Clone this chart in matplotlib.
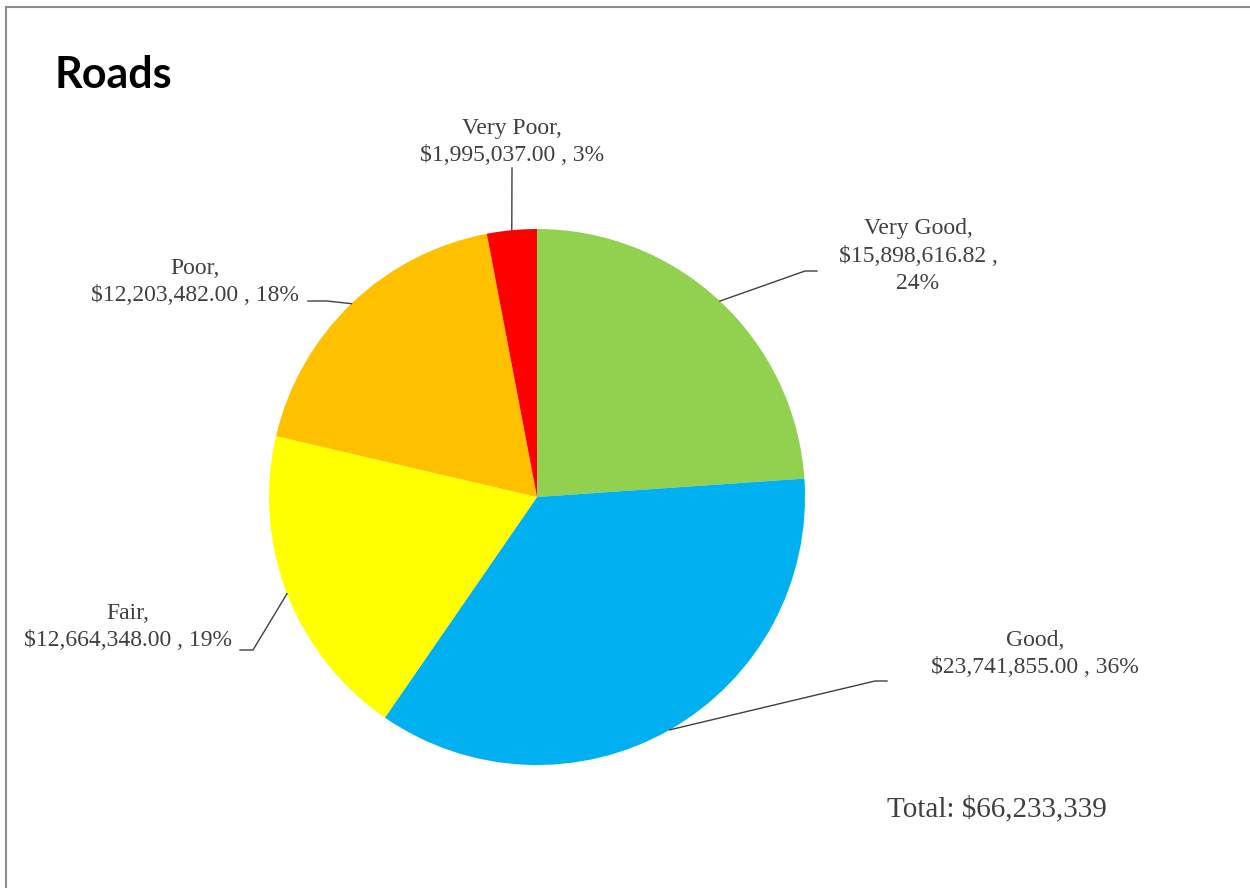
import numpy as np
import matplotlib
matplotlib.use("Agg")
import matplotlib.pyplot as plt
from matplotlib.lines import Line2D

# Road network replacement value by condition rating
categories = ["Very Good", "Good", "Fair", "Poor", "Very Poor"]
values = [15898616.82, 23741855.00, 12664348.00, 12203482.00, 1995037.00]
colors = ["#92D050", "#00B0F0", "#FFFF00", "#FFC000", "#FF0000"]
title = "Roads"
total_text = "Total: $66,233,339"

W, H = 1250, 888
CX, CY, R = 537, 497, 268  # pie centre / radius in pixels

fig = plt.figure(figsize=(W / 100, H / 100), dpi=100)
fig.patch.set_facecolor("white")

ax = fig.add_axes([(CX - R) / W, (H - CY - R) / H, 2 * R / W, 2 * R / H])
wedges, _ = ax.pie(values, colors=colors, startangle=90, counterclock=False,
                   radius=1.0, wedgeprops=dict(linewidth=0))
ax.set_xlim(-1, 1)
ax.set_ylim(-1, 1)
ax.set_aspect("equal")
ax.axis("off")


def px(x, y):
    """Pixel position (origin top-left) -> pie data coordinates."""
    return (x - CX) / R, (CY - y) / R


total = sum(values)
label_font = dict(family=["Liberation Serif", "DejaVu Serif"], size=17,
                  color="#404040")
line_kw = dict(color="#404040", lw=1.0, clip_on=False)

# label block centre and leader elbow points (pixels)
layout = {
    "Very Good": dict(text=(918, 256), elbow=[(805, 271), (817, 271)], wrap=True),
    "Good": dict(text=(1035, 654), elbow=[(875, 681), (887, 681)], wrap=False),
    "Fair": dict(text=(128, 627), elbow=[(253, 650), (240, 650)], wrap=False),
    "Poor": dict(text=(195, 282), elbow=[(327, 301), (308, 301)], wrap=False),
    "Very Poor": dict(text=(512, 142), elbow=[(512, 168)], wrap=False),
}

for w, cat, val in zip(wedges, categories, values):
    pct = val / total * 100
    money = f"${val:,.2f}"
    cfg = layout[cat]
    if cfg["wrap"]:
        label = f"{cat},\n{money} ,\n{pct:.0f}%"
    else:
        label = f"{cat},\n{money} , {pct:.0f}%"
    mid = np.deg2rad((w.theta1 + w.theta2) / 2)
    pts = [(np.cos(mid), np.sin(mid))] + [px(*p) for p in cfg["elbow"]]
    xs, ys = zip(*pts)
    ax.add_line(Line2D(xs, ys, **line_kw))
    tx, ty = px(*cfg["text"])
    ax.text(tx, ty, label, ha="center", va="center", linespacing=1.42,
            **label_font)

# title and total
fig.text(55 / W, 1 - 88 / H, title, ha="left", va="baseline",
         family=["Lato", "DejaVu Sans"], weight="bold", size=31, color="black")
fig.text(887 / W, 1 - 816 / H, total_text, ha="left", va="baseline",
         family=["Liberation Serif", "DejaVu Serif"], size=21, color="#404040")

# chart frame
fig.add_artist(Line2D([6 / W, 6 / W], [0, 1 - 7 / H], transform=fig.transFigure,
                      color="#8c8c8c", lw=1.5))
fig.add_artist(Line2D([6 / W, 1], [1 - 7 / H, 1 - 7 / H], transform=fig.transFigure,
                      color="#8c8c8c", lw=1.5))

fig.savefig("out.png", dpi=100, facecolor="white")
